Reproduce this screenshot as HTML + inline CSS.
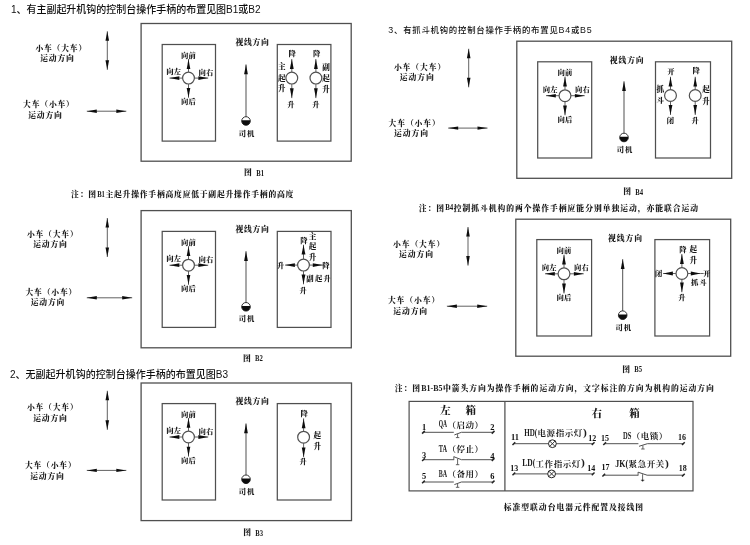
<!DOCTYPE html>
<html lang="zh-CN"><head><meta charset="utf-8"><title>联动台操作手柄布置图</title>
<style>
html,body{margin:0;padding:0;background:#fff;}
body{width:750px;height:545px;overflow:hidden;font-family:"Liberation Serif","Noto Serif CJK SC",serif;}
svg{display:block;}
</style></head><body>
<svg width="750" height="545" viewBox="0 0 750 545">
<defs><filter id="soft" filterUnits="userSpaceOnUse" x="0" y="0" width="750" height="545"><feGaussianBlur stdDeviation="0.38"/></filter></defs>
<rect x="0" y="0" width="750" height="545" fill="#ffffff"/>
<g filter="url(#soft)">
<text x="10.9" y="12.5" font-size="10" text-anchor="start" font-family='"Liberation Sans","Noto Sans CJK SC",sans-serif' font-weight="500" fill="#111" textLength="249.6" lengthAdjust="spacing">1、有主副起升机钩的控制台操作手柄的布置见图B1或B2</text>
<text x="10.0" y="377.6" font-size="10" text-anchor="start" font-family='"Liberation Sans","Noto Sans CJK SC",sans-serif' font-weight="500" fill="#111" textLength="218.0" lengthAdjust="spacing">2、无副起升机钩的控制台操作手柄的布置见图B3</text>
<text x="388.3" y="33.0" font-size="8.4" font-family='"Liberation Sans","Noto Sans CJK SC",sans-serif' font-weight="500" fill="#111" textLength="203.4" lengthAdjust="spacing"><tspan font-size="8.9">3</tspan>、有抓斗机钩的控制台操作手柄的布置见<tspan font-size="8.9">B4</tspan>或<tspan font-size="8.9">B5</tspan></text>
<rect x="141.1" y="23.5" width="210.1" height="137.7" fill="none" stroke="#505050" stroke-width="1.3"/>
<rect x="162.2" y="44.5" width="53.3" height="96.6" fill="none" stroke="#505050" stroke-width="1.25"/>
<rect x="277.3" y="44.5" width="53.6" height="96.6" fill="none" stroke="#505050" stroke-width="1.25"/>
<line x1="188.5" y1="72.1" x2="188.5" y2="59.1" stroke="#505050" stroke-width="0.9"/>
<polygon points="188.5,59.1 190.3,68.9 186.7,68.9" fill="#111"/>
<line x1="188.5" y1="84.1" x2="188.5" y2="97.7" stroke="#505050" stroke-width="0.9"/>
<polygon points="188.5,97.7 186.7,87.9 190.3,87.9" fill="#111"/>
<line x1="182.5" y1="78.1" x2="169.5" y2="78.1" stroke="#505050" stroke-width="0.9"/>
<polygon points="169.5,78.1 179.3,76.2 179.3,79.9" fill="#111"/>
<line x1="194.5" y1="78.1" x2="208.2" y2="78.1" stroke="#505050" stroke-width="0.9"/>
<polygon points="208.2,78.1 198.4,79.9 198.4,76.2" fill="#111"/>
<circle cx="188.5" cy="78.1" r="5.9" fill="#fff" stroke="#505050" stroke-width="1.2"/>
<text x="181.07 188.57" y="57.7" font-size="7.35" font-family='"Liberation Serif","Noto Serif CJK SC",serif' font-weight="900" fill="#1a1a1a">向前</text>
<text x="166.17 173.67" y="74.1" font-size="7.35" font-family='"Liberation Serif","Noto Serif CJK SC",serif' font-weight="900" fill="#1a1a1a">向左</text>
<text x="198.47 205.97" y="74.7" font-size="7.35" font-family='"Liberation Serif","Noto Serif CJK SC",serif' font-weight="900" fill="#1a1a1a">向右</text>
<text x="181.07 188.57" y="104.1" font-size="7.35" font-family='"Liberation Serif","Noto Serif CJK SC",serif' font-weight="900" fill="#1a1a1a">向后</text>
<line x1="246.0" y1="117.0" x2="246.0" y2="64.5" stroke="#505050" stroke-width="1.0"/>
<polygon points="246.0,64.5 247.9,74.3 244.1,74.3" fill="#111"/>
<circle cx="246.0" cy="121.0" r="4.3" fill="#fff" stroke="#222" stroke-width="0.9"/>
<path d="M241.76,120.30 A4.3,4.3 0 1 0 250.24,120.30 Z" fill="#111"/>
<text x="235.55 244.05 252.55 261.05" y="45.4" font-size="7.8" font-family='"Liberation Serif","Noto Serif CJK SC",serif' font-weight="900" fill="#1a1a1a">视线方向</text>
<text x="238.72 246.92" y="135.6" font-size="7.35" font-family='"Liberation Serif","Noto Serif CJK SC",serif' font-weight="900" fill="#1a1a1a">司机</text>
<line x1="291.8" y1="72.1" x2="291.8" y2="59.1" stroke="#505050" stroke-width="0.9"/>
<polygon points="291.8,59.1 293.7,68.9 289.9,68.9" fill="#111"/>
<line x1="291.8" y1="84.1" x2="291.8" y2="98.1" stroke="#505050" stroke-width="0.9"/>
<polygon points="291.8,98.1 289.9,88.3 293.7,88.3" fill="#111"/>
<circle cx="291.8" cy="78.1" r="5.9" fill="#fff" stroke="#505050" stroke-width="1.2"/>
<line x1="315.9" y1="72.1" x2="315.9" y2="59.1" stroke="#505050" stroke-width="0.9"/>
<polygon points="315.9,59.1 317.8,68.9 314.0,68.9" fill="#111"/>
<line x1="315.9" y1="84.1" x2="315.9" y2="98.1" stroke="#505050" stroke-width="0.9"/>
<polygon points="315.9,98.1 314.0,88.3 317.8,88.3" fill="#111"/>
<circle cx="315.9" cy="78.1" r="5.9" fill="#fff" stroke="#505050" stroke-width="1.2"/>
<text x="292.2" y="56.1" font-size="7.35" text-anchor="middle" font-family='"Liberation Serif","Noto Serif CJK SC",serif' font-weight="900" fill="#1a1a1a">降</text>
<text x="316.8" y="56.1" font-size="7.35" text-anchor="middle" font-family='"Liberation Serif","Noto Serif CJK SC",serif' font-weight="900" fill="#1a1a1a">降</text>
<text x="290.9" y="106.5" font-size="7.35" text-anchor="middle" font-family='"Liberation Serif","Noto Serif CJK SC",serif' font-weight="900" fill="#1a1a1a">升</text>
<text x="315.9" y="106.5" font-size="7.35" text-anchor="middle" font-family='"Liberation Serif","Noto Serif CJK SC",serif' font-weight="900" fill="#1a1a1a">升</text>
<text x="281.8" y="69.4" font-size="7.6" text-anchor="middle" font-family='"Liberation Serif","Noto Serif CJK SC",serif' font-weight="900" fill="#1a1a1a">主</text>
<text x="281.8" y="80.5" font-size="7.6" text-anchor="middle" font-family='"Liberation Serif","Noto Serif CJK SC",serif' font-weight="900" fill="#1a1a1a">起</text>
<text x="281.8" y="91.2" font-size="7.6" text-anchor="middle" font-family='"Liberation Serif","Noto Serif CJK SC",serif' font-weight="900" fill="#1a1a1a">升</text>
<text x="326.0" y="69.8" font-size="7.6" text-anchor="middle" font-family='"Liberation Serif","Noto Serif CJK SC",serif' font-weight="900" fill="#1a1a1a">副</text>
<text x="326.0" y="80.8" font-size="7.6" text-anchor="middle" font-family='"Liberation Serif","Noto Serif CJK SC",serif' font-weight="900" fill="#1a1a1a">起</text>
<text x="326.0" y="92.3" font-size="7.6" text-anchor="middle" font-family='"Liberation Serif","Noto Serif CJK SC",serif' font-weight="900" fill="#1a1a1a">升</text>
<line x1="107.3" y1="31.3" x2="107.3" y2="69.8" stroke="#505050" stroke-width="0.9"/>
<polygon points="107.3,69.8 105.5,60.3 109.1,60.3" fill="#111"/>
<polygon points="107.3,31.3 109.1,40.8 105.5,40.8" fill="#111"/>
<line x1="86.8" y1="111.2" x2="126.3" y2="111.2" stroke="#505050" stroke-width="0.9"/>
<polygon points="126.3,111.2 116.3,112.9 116.3,109.5" fill="#111"/>
<polygon points="86.8,111.2 96.8,109.5 96.8,112.9" fill="#111"/>
<text x="35.39 43.99 52.59 61.19 69.79 78.39" y="50.5" font-size="7.8" font-family='"Liberation Serif","Noto Serif CJK SC",serif' font-weight="900" fill="#1a1a1a">小车（大车）</text>
<text x="40.20 48.80 57.40 66.00" y="60.9" font-size="7.8" font-family='"Liberation Serif","Noto Serif CJK SC",serif' font-weight="900" fill="#1a1a1a">运动方向</text>
<text x="23.09 31.69 40.29 48.89 57.49 66.09" y="106.5" font-size="7.8" font-family='"Liberation Serif","Noto Serif CJK SC",serif' font-weight="900" fill="#1a1a1a">大车（小车）</text>
<text x="28.20 36.80 45.40 54.00" y="118.0" font-size="7.8" font-family='"Liberation Serif","Noto Serif CJK SC",serif' font-weight="900" fill="#1a1a1a">运动方向</text>
<text x="244.09" y="175.0" font-size="7.8" font-family='"Liberation Serif","Noto Serif CJK SC",serif' font-weight="900" fill="#1a1a1a">图</text>
<text x="256.2" y="175.7" font-size="8.8" text-anchor="start" font-family='"Liberation Serif",serif' font-weight="bold" fill="#1a1a1a" textLength="7.8" lengthAdjust="spacingAndGlyphs">B1</text>
<text x="71.09 79.67 88.25" y="197.1" font-size="7.8" font-family='"Liberation Serif","Noto Serif CJK SC",serif' font-weight="900" fill="#1a1a1a">注：图</text>
<text x="97.13" y="196.8" font-size="8.81" font-family='"Liberation Serif",serif' font-weight="900" fill="#1a1a1a" textLength="7.88" lengthAdjust="spacingAndGlyphs">B1</text>
<text x="105.41 113.99 122.57 131.15 139.73 148.31 156.89 165.47 174.05 182.63 191.21 199.79 208.37 216.95 225.53 234.11 242.69 251.27 259.85 268.43 277.01 285.59" y="197.1" font-size="7.8" font-family='"Liberation Serif","Noto Serif CJK SC",serif' font-weight="900" fill="#1a1a1a">主起升操作手柄高度应低于副起升操作手柄的高度</text>
<rect x="141.1" y="210.6" width="210.2" height="137.2" fill="none" stroke="#505050" stroke-width="1.3"/>
<rect x="162.2" y="231.4" width="53.3" height="96.0" fill="none" stroke="#505050" stroke-width="1.25"/>
<rect x="277.3" y="231.4" width="53.7" height="96.0" fill="none" stroke="#505050" stroke-width="1.25"/>
<line x1="188.5" y1="259.2" x2="188.5" y2="246.2" stroke="#505050" stroke-width="0.9"/>
<polygon points="188.5,246.2 190.3,256.0 186.7,256.0" fill="#111"/>
<line x1="188.5" y1="271.2" x2="188.5" y2="284.8" stroke="#505050" stroke-width="0.9"/>
<polygon points="188.5,284.8 186.7,275.0 190.3,275.0" fill="#111"/>
<line x1="182.5" y1="265.2" x2="169.5" y2="265.2" stroke="#505050" stroke-width="0.9"/>
<polygon points="169.5,265.2 179.3,263.3 179.3,267.1" fill="#111"/>
<line x1="194.5" y1="265.2" x2="208.2" y2="265.2" stroke="#505050" stroke-width="0.9"/>
<polygon points="208.2,265.2 198.4,267.1 198.4,263.3" fill="#111"/>
<circle cx="188.5" cy="265.2" r="5.9" fill="#fff" stroke="#505050" stroke-width="1.2"/>
<text x="181.07 188.57" y="244.8" font-size="7.35" font-family='"Liberation Serif","Noto Serif CJK SC",serif' font-weight="900" fill="#1a1a1a">向前</text>
<text x="166.17 173.67" y="261.2" font-size="7.35" font-family='"Liberation Serif","Noto Serif CJK SC",serif' font-weight="900" fill="#1a1a1a">向左</text>
<text x="198.47 205.97" y="261.8" font-size="7.35" font-family='"Liberation Serif","Noto Serif CJK SC",serif' font-weight="900" fill="#1a1a1a">向右</text>
<text x="181.07 188.57" y="291.2" font-size="7.35" font-family='"Liberation Serif","Noto Serif CJK SC",serif' font-weight="900" fill="#1a1a1a">向后</text>
<line x1="246.0" y1="302.8" x2="246.0" y2="251.2" stroke="#505050" stroke-width="1.0"/>
<polygon points="246.0,251.2 247.9,261.0 244.1,261.0" fill="#111"/>
<circle cx="246.0" cy="306.8" r="4.3" fill="#fff" stroke="#222" stroke-width="0.9"/>
<path d="M241.76,306.10 A4.3,4.3 0 1 0 250.24,306.10 Z" fill="#111"/>
<text x="235.55 244.05 252.55 261.05" y="232.3" font-size="7.8" font-family='"Liberation Serif","Noto Serif CJK SC",serif' font-weight="900" fill="#1a1a1a">视线方向</text>
<text x="238.72 246.92" y="321.4" font-size="7.35" font-family='"Liberation Serif","Noto Serif CJK SC",serif' font-weight="900" fill="#1a1a1a">司机</text>
<line x1="303.5" y1="259.1" x2="303.5" y2="244.8" stroke="#505050" stroke-width="0.9"/>
<polygon points="303.5,244.8 305.4,254.6 301.6,254.6" fill="#111"/>
<line x1="303.5" y1="271.1" x2="303.5" y2="284.3" stroke="#505050" stroke-width="0.9"/>
<polygon points="303.5,284.3 301.6,274.5 305.4,274.5" fill="#111"/>
<line x1="297.5" y1="265.1" x2="285.1" y2="265.1" stroke="#505050" stroke-width="0.9"/>
<polygon points="285.1,265.1 294.9,263.2 294.9,267.0" fill="#111"/>
<line x1="309.5" y1="265.1" x2="322.6" y2="265.1" stroke="#505050" stroke-width="0.9"/>
<polygon points="322.6,265.1 312.8,267.0 312.8,263.2" fill="#111"/>
<circle cx="303.5" cy="265.1" r="5.9" fill="#fff" stroke="#505050" stroke-width="1.2"/>
<line x1="322.6" y1="265.1" x2="325.0" y2="265.1" stroke="#505050" stroke-width="0.9"/>
<text x="303.9" y="242.7" font-size="7.35" text-anchor="middle" font-family='"Liberation Serif","Noto Serif CJK SC",serif' font-weight="900" fill="#1a1a1a">降</text>
<text x="312.6" y="238.5" font-size="7.6" text-anchor="middle" font-family='"Liberation Serif","Noto Serif CJK SC",serif' font-weight="900" fill="#1a1a1a">主</text>
<text x="312.6" y="248.8" font-size="7.6" text-anchor="middle" font-family='"Liberation Serif","Noto Serif CJK SC",serif' font-weight="900" fill="#1a1a1a">起</text>
<text x="312.6" y="260.2" font-size="7.6" text-anchor="middle" font-family='"Liberation Serif","Noto Serif CJK SC",serif' font-weight="900" fill="#1a1a1a">升</text>
<text x="280.7" y="267.7" font-size="7.35" text-anchor="middle" font-family='"Liberation Serif","Noto Serif CJK SC",serif' font-weight="900" fill="#1a1a1a">升</text>
<text x="326.0" y="267.7" font-size="7.35" text-anchor="middle" font-family='"Liberation Serif","Noto Serif CJK SC",serif' font-weight="900" fill="#1a1a1a">降</text>
<text x="306.21 314.91 323.61" y="280.8" font-size="7.35" font-family='"Liberation Serif","Noto Serif CJK SC",serif' font-weight="900" fill="#1a1a1a">副起升</text>
<text x="303.2" y="292.9" font-size="7.35" text-anchor="middle" font-family='"Liberation Serif","Noto Serif CJK SC",serif' font-weight="900" fill="#1a1a1a">升</text>
<line x1="107.3" y1="218.0" x2="107.3" y2="257.0" stroke="#505050" stroke-width="0.9"/>
<polygon points="107.3,257.0 105.5,247.5 109.1,247.5" fill="#111"/>
<polygon points="107.3,218.0 109.1,227.5 105.5,227.5" fill="#111"/>
<line x1="86.8" y1="297.8" x2="132.2" y2="297.8" stroke="#505050" stroke-width="0.9"/>
<polygon points="132.2,297.8 122.2,299.5 122.2,296.1" fill="#111"/>
<polygon points="86.8,297.8 96.8,296.1 96.8,299.5" fill="#111"/>
<text x="26.89 35.49 44.09 52.69 61.29 69.89" y="236.8" font-size="7.8" font-family='"Liberation Serif","Noto Serif CJK SC",serif' font-weight="900" fill="#1a1a1a">小车（大车）</text>
<text x="33.20 41.80 50.40 59.00" y="247.0" font-size="7.8" font-family='"Liberation Serif","Noto Serif CJK SC",serif' font-weight="900" fill="#1a1a1a">运动方向</text>
<text x="25.49 34.09 42.69 51.29 59.89 68.49" y="294.5" font-size="7.8" font-family='"Liberation Serif","Noto Serif CJK SC",serif' font-weight="900" fill="#1a1a1a">大车（小车）</text>
<text x="30.70 39.30 47.90 56.50" y="304.8" font-size="7.8" font-family='"Liberation Serif","Noto Serif CJK SC",serif' font-weight="900" fill="#1a1a1a">运动方向</text>
<text x="242.89" y="360.5" font-size="7.8" font-family='"Liberation Serif","Noto Serif CJK SC",serif' font-weight="900" fill="#1a1a1a">图</text>
<text x="255.0" y="361.2" font-size="8.8" text-anchor="start" font-family='"Liberation Serif",serif' font-weight="bold" fill="#1a1a1a" textLength="7.8" lengthAdjust="spacingAndGlyphs">B2</text>
<rect x="141.1" y="383.0" width="210.4" height="137.6" fill="none" stroke="#505050" stroke-width="1.3"/>
<rect x="162.2" y="403.6" width="53.3" height="96.4" fill="none" stroke="#505050" stroke-width="1.25"/>
<rect x="277.3" y="403.6" width="53.7" height="96.4" fill="none" stroke="#505050" stroke-width="1.25"/>
<line x1="188.5" y1="431.0" x2="188.5" y2="418.0" stroke="#505050" stroke-width="0.9"/>
<polygon points="188.5,418.0 190.3,427.8 186.7,427.8" fill="#111"/>
<line x1="188.5" y1="443.0" x2="188.5" y2="456.6" stroke="#505050" stroke-width="0.9"/>
<polygon points="188.5,456.6 186.7,446.8 190.3,446.8" fill="#111"/>
<line x1="182.5" y1="437.0" x2="169.5" y2="437.0" stroke="#505050" stroke-width="0.9"/>
<polygon points="169.5,437.0 179.3,435.1 179.3,438.9" fill="#111"/>
<line x1="194.5" y1="437.0" x2="208.2" y2="437.0" stroke="#505050" stroke-width="0.9"/>
<polygon points="208.2,437.0 198.4,438.9 198.4,435.1" fill="#111"/>
<circle cx="188.5" cy="437.0" r="5.9" fill="#fff" stroke="#505050" stroke-width="1.2"/>
<text x="181.07 188.57" y="416.6" font-size="7.35" font-family='"Liberation Serif","Noto Serif CJK SC",serif' font-weight="900" fill="#1a1a1a">向前</text>
<text x="166.17 173.67" y="433.0" font-size="7.35" font-family='"Liberation Serif","Noto Serif CJK SC",serif' font-weight="900" fill="#1a1a1a">向左</text>
<text x="198.47 205.97" y="433.6" font-size="7.35" font-family='"Liberation Serif","Noto Serif CJK SC",serif' font-weight="900" fill="#1a1a1a">向右</text>
<text x="181.07 188.57" y="463.0" font-size="7.35" font-family='"Liberation Serif","Noto Serif CJK SC",serif' font-weight="900" fill="#1a1a1a">向后</text>
<line x1="246.0" y1="475.3" x2="246.0" y2="423.5" stroke="#505050" stroke-width="1.0"/>
<polygon points="246.0,423.5 247.9,433.3 244.1,433.3" fill="#111"/>
<circle cx="246.0" cy="479.3" r="4.3" fill="#fff" stroke="#222" stroke-width="0.9"/>
<path d="M241.76,478.60 A4.3,4.3 0 1 0 250.24,478.60 Z" fill="#111"/>
<text x="235.55 244.05 252.55 261.05" y="404.3" font-size="7.8" font-family='"Liberation Serif","Noto Serif CJK SC",serif' font-weight="900" fill="#1a1a1a">视线方向</text>
<text x="238.72 246.92" y="493.9" font-size="7.35" font-family='"Liberation Serif","Noto Serif CJK SC",serif' font-weight="900" fill="#1a1a1a">司机</text>
<line x1="303.6" y1="431.2" x2="303.6" y2="418.4" stroke="#505050" stroke-width="0.9"/>
<polygon points="303.6,418.4 305.5,428.2 301.8,428.2" fill="#111"/>
<line x1="303.6" y1="443.2" x2="303.6" y2="457.2" stroke="#505050" stroke-width="0.9"/>
<polygon points="303.6,457.2 301.8,447.4 305.5,447.4" fill="#111"/>
<circle cx="303.6" cy="437.2" r="5.9" fill="#fff" stroke="#505050" stroke-width="1.2"/>
<text x="304.3" y="415.7" font-size="7.35" text-anchor="middle" font-family='"Liberation Serif","Noto Serif CJK SC",serif' font-weight="900" fill="#1a1a1a">降</text>
<text x="303.2" y="464.1" font-size="7.35" text-anchor="middle" font-family='"Liberation Serif","Noto Serif CJK SC",serif' font-weight="900" fill="#1a1a1a">升</text>
<text x="317.2" y="437.6" font-size="7.6" text-anchor="middle" font-family='"Liberation Serif","Noto Serif CJK SC",serif' font-weight="900" fill="#1a1a1a">起</text>
<text x="317.2" y="448.6" font-size="7.6" text-anchor="middle" font-family='"Liberation Serif","Noto Serif CJK SC",serif' font-weight="900" fill="#1a1a1a">升</text>
<line x1="107.3" y1="390.8" x2="107.3" y2="429.8" stroke="#505050" stroke-width="0.9"/>
<polygon points="107.3,429.8 105.5,420.3 109.1,420.3" fill="#111"/>
<polygon points="107.3,390.8 109.1,400.3 105.5,400.3" fill="#111"/>
<line x1="86.8" y1="470.4" x2="126.3" y2="470.4" stroke="#505050" stroke-width="0.9"/>
<polygon points="126.3,470.4 116.3,472.1 116.3,468.7" fill="#111"/>
<polygon points="86.8,470.4 96.8,468.7 96.8,472.1" fill="#111"/>
<text x="26.89 35.49 44.09 52.69 61.29 69.89" y="409.8" font-size="7.8" font-family='"Liberation Serif","Noto Serif CJK SC",serif' font-weight="900" fill="#1a1a1a">小车（大车）</text>
<text x="33.20 41.80 50.40 59.00" y="420.6" font-size="7.8" font-family='"Liberation Serif","Noto Serif CJK SC",serif' font-weight="900" fill="#1a1a1a">运动方向</text>
<text x="24.89 33.49 42.09 50.69 59.29 67.89" y="467.5" font-size="7.8" font-family='"Liberation Serif","Noto Serif CJK SC",serif' font-weight="900" fill="#1a1a1a">大车（小车）</text>
<text x="30.20 38.80 47.40 56.00" y="478.8" font-size="7.8" font-family='"Liberation Serif","Noto Serif CJK SC",serif' font-weight="900" fill="#1a1a1a">运动方向</text>
<text x="243.19" y="535.0" font-size="7.8" font-family='"Liberation Serif","Noto Serif CJK SC",serif' font-weight="900" fill="#1a1a1a">图</text>
<text x="255.3" y="535.7" font-size="8.8" text-anchor="start" font-family='"Liberation Serif",serif' font-weight="bold" fill="#1a1a1a" textLength="7.8" lengthAdjust="spacingAndGlyphs">B3</text>
<rect x="516.8" y="41.2" width="214.9" height="137.1" fill="none" stroke="#505050" stroke-width="1.3"/>
<rect x="537.7" y="61.8" width="54.0" height="96.2" fill="none" stroke="#505050" stroke-width="1.25"/>
<rect x="655.5" y="61.8" width="55.0" height="96.2" fill="none" stroke="#505050" stroke-width="1.25"/>
<line x1="565.0" y1="89.7" x2="565.0" y2="76.7" stroke="#505050" stroke-width="0.9"/>
<polygon points="565.0,76.7 566.9,86.5 563.1,86.5" fill="#111"/>
<line x1="565.0" y1="101.7" x2="565.0" y2="115.3" stroke="#505050" stroke-width="0.9"/>
<polygon points="565.0,115.3 563.1,105.5 566.9,105.5" fill="#111"/>
<line x1="559.0" y1="95.7" x2="546.0" y2="95.7" stroke="#505050" stroke-width="0.9"/>
<polygon points="546.0,95.7 555.8,93.9 555.8,97.5" fill="#111"/>
<line x1="571.0" y1="95.7" x2="584.7" y2="95.7" stroke="#505050" stroke-width="0.9"/>
<polygon points="584.7,95.7 574.9,97.5 574.9,93.9" fill="#111"/>
<circle cx="565.0" cy="95.7" r="5.9" fill="#fff" stroke="#505050" stroke-width="1.2"/>
<text x="557.58 565.08" y="75.3" font-size="7.35" font-family='"Liberation Serif","Noto Serif CJK SC",serif' font-weight="900" fill="#1a1a1a">向前</text>
<text x="542.68 550.18" y="91.7" font-size="7.35" font-family='"Liberation Serif","Noto Serif CJK SC",serif' font-weight="900" fill="#1a1a1a">向左</text>
<text x="574.98 582.48" y="92.3" font-size="7.35" font-family='"Liberation Serif","Noto Serif CJK SC",serif' font-weight="900" fill="#1a1a1a">向右</text>
<text x="557.58 565.08" y="121.7" font-size="7.35" font-family='"Liberation Serif","Noto Serif CJK SC",serif' font-weight="900" fill="#1a1a1a">向后</text>
<line x1="624.0" y1="133.5" x2="624.0" y2="81.3" stroke="#505050" stroke-width="1.0"/>
<polygon points="624.0,81.3 625.9,91.1 622.1,91.1" fill="#111"/>
<circle cx="624.0" cy="137.5" r="4.3" fill="#fff" stroke="#222" stroke-width="0.9"/>
<path d="M619.76,136.80 A4.3,4.3 0 1 0 628.24,136.80 Z" fill="#111"/>
<text x="609.75 618.45 627.15 635.85" y="62.8" font-size="7.8" font-family='"Liberation Serif","Noto Serif CJK SC",serif' font-weight="900" fill="#1a1a1a">视线方向</text>
<text x="616.73 624.93" y="152.1" font-size="7.35" font-family='"Liberation Serif","Noto Serif CJK SC",serif' font-weight="900" fill="#1a1a1a">司机</text>
<line x1="670.5" y1="89.5" x2="670.5" y2="76.8" stroke="#505050" stroke-width="0.9"/>
<polygon points="670.5,76.8 672.4,86.6 668.6,86.6" fill="#111"/>
<line x1="670.5" y1="101.5" x2="670.5" y2="114.9" stroke="#505050" stroke-width="0.9"/>
<polygon points="670.5,114.9 668.6,105.1 672.4,105.1" fill="#111"/>
<circle cx="670.5" cy="95.5" r="5.9" fill="#fff" stroke="#505050" stroke-width="1.2"/>
<line x1="695.2" y1="89.5" x2="695.2" y2="76.8" stroke="#505050" stroke-width="0.9"/>
<polygon points="695.2,76.8 697.1,86.6 693.4,86.6" fill="#111"/>
<line x1="695.2" y1="101.5" x2="695.2" y2="114.9" stroke="#505050" stroke-width="0.9"/>
<polygon points="695.2,114.9 693.4,105.1 697.1,105.1" fill="#111"/>
<circle cx="695.2" cy="95.5" r="5.9" fill="#fff" stroke="#505050" stroke-width="1.2"/>
<text x="670.9" y="74.4" font-size="7.35" text-anchor="middle" font-family='"Liberation Serif","Noto Serif CJK SC",serif' font-weight="900" fill="#1a1a1a">开</text>
<text x="696.3" y="73.0" font-size="7.35" text-anchor="middle" font-family='"Liberation Serif","Noto Serif CJK SC",serif' font-weight="900" fill="#1a1a1a">降</text>
<text x="670.5" y="122.9" font-size="7.35" text-anchor="middle" font-family='"Liberation Serif","Noto Serif CJK SC",serif' font-weight="900" fill="#1a1a1a">闭</text>
<text x="695.2" y="122.9" font-size="7.35" text-anchor="middle" font-family='"Liberation Serif","Noto Serif CJK SC",serif' font-weight="900" fill="#1a1a1a">升</text>
<text x="660.4" y="91.5" font-size="7.6" text-anchor="middle" font-family='"Liberation Serif","Noto Serif CJK SC",serif' font-weight="900" fill="#1a1a1a">抓</text>
<text x="660.4" y="102.9" font-size="7.6" text-anchor="middle" font-family='"Liberation Serif","Noto Serif CJK SC",serif' font-weight="900" fill="#1a1a1a">斗</text>
<text x="706.0" y="92.2" font-size="7.6" text-anchor="middle" font-family='"Liberation Serif","Noto Serif CJK SC",serif' font-weight="900" fill="#1a1a1a">起</text>
<text x="706.0" y="103.6" font-size="7.6" text-anchor="middle" font-family='"Liberation Serif","Noto Serif CJK SC",serif' font-weight="900" fill="#1a1a1a">升</text>
<line x1="468.7" y1="48.8" x2="468.7" y2="87.3" stroke="#505050" stroke-width="0.9"/>
<polygon points="468.7,87.3 466.9,77.8 470.5,77.8" fill="#111"/>
<polygon points="468.7,48.8 470.5,58.3 466.9,58.3" fill="#111"/>
<line x1="448.2" y1="128.1" x2="487.5" y2="128.1" stroke="#505050" stroke-width="0.9"/>
<polygon points="487.5,128.1 477.5,129.8 477.5,126.4" fill="#111"/>
<polygon points="448.2,128.1 458.2,126.4 458.2,129.8" fill="#111"/>
<text x="393.89 402.59 411.29 419.99 428.69 437.39" y="69.8" font-size="7.8" font-family='"Liberation Serif","Noto Serif CJK SC",serif' font-weight="900" fill="#1a1a1a">小车（大车）</text>
<text x="399.85 408.55 417.25 425.95" y="79.8" font-size="7.8" font-family='"Liberation Serif","Noto Serif CJK SC",serif' font-weight="900" fill="#1a1a1a">运动方向</text>
<text x="388.49 397.19 405.89 414.59 423.29 431.99" y="125.8" font-size="7.8" font-family='"Liberation Serif","Noto Serif CJK SC",serif' font-weight="900" fill="#1a1a1a">大车（小车）</text>
<text x="394.05 402.75 411.45 420.15" y="136.1" font-size="7.8" font-family='"Liberation Serif","Noto Serif CJK SC",serif' font-weight="900" fill="#1a1a1a">运动方向</text>
<text x="623.19" y="194.0" font-size="7.8" font-family='"Liberation Serif","Noto Serif CJK SC",serif' font-weight="900" fill="#1a1a1a">图</text>
<text x="635.3" y="194.7" font-size="8.8" text-anchor="start" font-family='"Liberation Serif",serif' font-weight="bold" fill="#1a1a1a" textLength="7.8" lengthAdjust="spacingAndGlyphs">B4</text>
<text x="418.69 427.45 436.21" y="210.6" font-size="7.8" font-family='"Liberation Serif","Noto Serif CJK SC",serif' font-weight="900" fill="#1a1a1a">注：图</text>
<text x="445.27" y="210.3" font-size="8.81" font-family='"Liberation Serif",serif' font-weight="900" fill="#1a1a1a" textLength="8.06" lengthAdjust="spacingAndGlyphs">B4</text>
<text x="453.73 462.49 471.25 480.01 488.77 497.53 506.29 515.05 523.81 532.57 541.33 550.09 558.85 567.61 576.37 585.13 593.89 602.65 611.41 620.17 628.93 637.69 646.45 655.21 663.97 672.73 681.49 690.25" y="210.6" font-size="7.8" font-family='"Liberation Serif","Noto Serif CJK SC",serif' font-weight="900" fill="#1a1a1a">控制抓斗机构的两个操作手柄应能分别单独运动，亦能联合运动</text>
<rect x="515.8" y="219.2" width="214.9" height="137.0" fill="none" stroke="#505050" stroke-width="1.3"/>
<rect x="536.8" y="239.6" width="54.8" height="96.4" fill="none" stroke="#505050" stroke-width="1.25"/>
<rect x="654.9" y="239.6" width="54.7" height="96.4" fill="none" stroke="#505050" stroke-width="1.25"/>
<line x1="564.0" y1="267.8" x2="564.0" y2="254.8" stroke="#505050" stroke-width="0.9"/>
<polygon points="564.0,254.8 565.9,264.6 562.1,264.6" fill="#111"/>
<line x1="564.0" y1="279.8" x2="564.0" y2="293.4" stroke="#505050" stroke-width="0.9"/>
<polygon points="564.0,293.4 562.1,283.6 565.9,283.6" fill="#111"/>
<line x1="558.0" y1="273.8" x2="545.0" y2="273.8" stroke="#505050" stroke-width="0.9"/>
<polygon points="545.0,273.8 554.8,271.9 554.8,275.7" fill="#111"/>
<line x1="570.0" y1="273.8" x2="583.7" y2="273.8" stroke="#505050" stroke-width="0.9"/>
<polygon points="583.7,273.8 573.9,275.7 573.9,271.9" fill="#111"/>
<circle cx="564.0" cy="273.8" r="5.9" fill="#fff" stroke="#505050" stroke-width="1.2"/>
<text x="556.58 564.08" y="253.4" font-size="7.35" font-family='"Liberation Serif","Noto Serif CJK SC",serif' font-weight="900" fill="#1a1a1a">向前</text>
<text x="541.68 549.18" y="269.8" font-size="7.35" font-family='"Liberation Serif","Noto Serif CJK SC",serif' font-weight="900" fill="#1a1a1a">向左</text>
<text x="573.98 581.48" y="270.4" font-size="7.35" font-family='"Liberation Serif","Noto Serif CJK SC",serif' font-weight="900" fill="#1a1a1a">向右</text>
<text x="556.58 564.08" y="299.8" font-size="7.35" font-family='"Liberation Serif","Noto Serif CJK SC",serif' font-weight="900" fill="#1a1a1a">向后</text>
<line x1="622.7" y1="311.2" x2="622.7" y2="259.2" stroke="#505050" stroke-width="1.0"/>
<polygon points="622.7,259.2 624.6,269.0 620.8,269.0" fill="#111"/>
<circle cx="622.7" cy="315.2" r="4.3" fill="#fff" stroke="#222" stroke-width="0.9"/>
<path d="M618.46,314.50 A4.3,4.3 0 1 0 626.94,314.50 Z" fill="#111"/>
<text x="608.05 616.75 625.45 634.15" y="240.5" font-size="7.8" font-family='"Liberation Serif","Noto Serif CJK SC",serif' font-weight="900" fill="#1a1a1a">视线方向</text>
<text x="615.43 623.63" y="329.8" font-size="7.35" font-family='"Liberation Serif","Noto Serif CJK SC",serif' font-weight="900" fill="#1a1a1a">司机</text>
<line x1="681.9" y1="267.5" x2="681.9" y2="254.1" stroke="#505050" stroke-width="0.9"/>
<polygon points="681.9,254.1 683.8,263.9 680.0,263.9" fill="#111"/>
<line x1="681.9" y1="279.5" x2="681.9" y2="292.2" stroke="#505050" stroke-width="0.9"/>
<polygon points="681.9,292.2 680.0,282.4 683.8,282.4" fill="#111"/>
<line x1="675.9" y1="273.5" x2="663.1" y2="273.5" stroke="#505050" stroke-width="0.9"/>
<polygon points="663.1,273.5 672.9,271.6 672.9,275.4" fill="#111"/>
<line x1="687.9" y1="273.5" x2="700.6" y2="273.5" stroke="#505050" stroke-width="0.9"/>
<polygon points="700.6,273.5 690.8,275.4 690.8,271.6" fill="#111"/>
<circle cx="681.9" cy="273.5" r="5.9" fill="#fff" stroke="#505050" stroke-width="1.2"/>
<line x1="700.6" y1="273.5" x2="703.5" y2="273.5" stroke="#505050" stroke-width="0.9"/>
<text x="682.9" y="251.7" font-size="7.35" text-anchor="middle" font-family='"Liberation Serif","Noto Serif CJK SC",serif' font-weight="900" fill="#1a1a1a">降</text>
<text x="693.2" y="252.1" font-size="7.6" text-anchor="middle" font-family='"Liberation Serif","Noto Serif CJK SC",serif' font-weight="900" fill="#1a1a1a">起</text>
<text x="693.2" y="262.8" font-size="7.6" text-anchor="middle" font-family='"Liberation Serif","Noto Serif CJK SC",serif' font-weight="900" fill="#1a1a1a">升</text>
<text x="658.8" y="275.8" font-size="7.35" text-anchor="middle" font-family='"Liberation Serif","Noto Serif CJK SC",serif' font-weight="900" fill="#1a1a1a">闭</text>
<text x="706.6" y="275.8" font-size="7.35" text-anchor="middle" font-family='"Liberation Serif","Noto Serif CJK SC",serif' font-weight="900" fill="#1a1a1a">开</text>
<text x="690.91 699.51" y="285.2" font-size="7.35" font-family='"Liberation Serif","Noto Serif CJK SC",serif' font-weight="900" fill="#1a1a1a">抓斗</text>
<text x="681.9" y="300.2" font-size="7.35" text-anchor="middle" font-family='"Liberation Serif","Noto Serif CJK SC",serif' font-weight="900" fill="#1a1a1a">升</text>
<line x1="468.0" y1="227.0" x2="468.0" y2="265.6" stroke="#505050" stroke-width="0.9"/>
<polygon points="468.0,265.6 466.2,256.1 469.8,256.1" fill="#111"/>
<polygon points="468.0,227.0 469.8,236.5 466.2,236.5" fill="#111"/>
<line x1="446.9" y1="306.2" x2="487.2" y2="306.2" stroke="#505050" stroke-width="0.9"/>
<polygon points="487.2,306.2 477.2,307.9 477.2,304.5" fill="#111"/>
<polygon points="446.9,306.2 456.9,304.5 456.9,307.9" fill="#111"/>
<text x="392.99 401.69 410.39 419.09 427.79 436.49" y="246.9" font-size="7.8" font-family='"Liberation Serif","Noto Serif CJK SC",serif' font-weight="900" fill="#1a1a1a">小车（大车）</text>
<text x="399.05 407.75 416.45 425.15" y="256.8" font-size="7.8" font-family='"Liberation Serif","Noto Serif CJK SC",serif' font-weight="900" fill="#1a1a1a">运动方向</text>
<text x="387.89 396.59 405.29 413.99 422.69 431.39" y="303.1" font-size="7.8" font-family='"Liberation Serif","Noto Serif CJK SC",serif' font-weight="900" fill="#1a1a1a">大车（小车）</text>
<text x="393.25 401.95 410.65 419.35" y="313.8" font-size="7.8" font-family='"Liberation Serif","Noto Serif CJK SC",serif' font-weight="900" fill="#1a1a1a">运动方向</text>
<text x="622.19" y="371.6" font-size="7.8" font-family='"Liberation Serif","Noto Serif CJK SC",serif' font-weight="900" fill="#1a1a1a">图</text>
<text x="634.3" y="372.3" font-size="8.8" text-anchor="start" font-family='"Liberation Serif",serif' font-weight="bold" fill="#1a1a1a" textLength="7.8" lengthAdjust="spacingAndGlyphs">B5</text>
<text x="394.69 403.46 412.23" y="391.0" font-size="7.8" font-family='"Liberation Serif","Noto Serif CJK SC",serif' font-weight="900" fill="#1a1a1a">注：图</text>
<text x="421.30" y="390.7" font-size="8.81" font-family='"Liberation Serif",serif' font-weight="900" fill="#1a1a1a" textLength="21.22" lengthAdjust="spacingAndGlyphs">B1-B5</text>
<text x="442.92 451.69 460.46 469.23 478.00 486.77 495.54 504.31 513.08 521.85 530.62 539.39 548.16 556.93 565.70 574.47 583.24 592.01 600.78 609.55 618.32 627.09 635.86 644.63 653.40 662.17 670.94 679.71 688.48 697.25 706.02" y="391.0" font-size="7.8" font-family='"Liberation Serif","Noto Serif CJK SC",serif' font-weight="900" fill="#1a1a1a">中箭头方向为操作手柄的运动方向，文字标注的方向为机构的运动方向</text>
<rect x="409.1" y="401.4" width="283.9" height="89.5" fill="none" stroke="#505050" stroke-width="1.2"/>
<line x1="504.9" y1="401.4" x2="504.9" y2="490.9" stroke="#505050" stroke-width="1.25"/>
<text x="445.5" y="414.1" font-size="10.5" text-anchor="middle" font-family='"Liberation Serif","Noto Serif CJK SC",serif' font-weight="900" fill="#1a1a1a">左</text>
<text x="470.8" y="414.1" font-size="10.5" text-anchor="middle" font-family='"Liberation Serif","Noto Serif CJK SC",serif' font-weight="900" fill="#1a1a1a">箱</text>
<text x="596.7" y="417.2" font-size="10.5" text-anchor="middle" font-family='"Liberation Serif","Noto Serif CJK SC",serif' font-weight="900" fill="#1a1a1a">右</text>
<text x="634.5" y="417.2" font-size="10.5" text-anchor="middle" font-family='"Liberation Serif","Noto Serif CJK SC",serif' font-weight="900" fill="#1a1a1a">箱</text>
<line x1="423.5" y1="432.3" x2="453.8" y2="432.3" stroke="#505050" stroke-width="1.0"/>
<line x1="461.4" y1="432.3" x2="493.2" y2="432.3" stroke="#505050" stroke-width="1.0"/>
<path d="M422.1,433.6 L424.8,430.9" stroke="#222" stroke-width="1.5"/>
<path d="M491.8,433.6 L494.5,430.9" stroke="#222" stroke-width="1.5"/>
<line x1="461.4" y1="432.3" x2="454.4" y2="434.9" stroke="#505050" stroke-width="1.0"/>
<line x1="457.6" y1="434.1" x2="457.6" y2="437.6" stroke="#505050" stroke-width="0.9"/>
<line x1="455.9" y1="437.6" x2="459.3" y2="437.6" stroke="#505050" stroke-width="0.9"/>
<line x1="423.5" y1="459.7" x2="453.8" y2="459.7" stroke="#505050" stroke-width="1.0"/>
<line x1="461.4" y1="459.7" x2="493.2" y2="459.7" stroke="#505050" stroke-width="1.0"/>
<path d="M422.1,461.0 L424.8,458.3" stroke="#222" stroke-width="1.5"/>
<path d="M491.8,461.0 L494.5,458.3" stroke="#222" stroke-width="1.5"/>
<line x1="453.8" y1="460.1" x2="453.8" y2="456.5" stroke="#505050" stroke-width="0.9"/>
<line x1="453.8" y1="456.7" x2="461.4" y2="459.7" stroke="#505050" stroke-width="1.0"/>
<line x1="457.6" y1="458.7" x2="457.6" y2="464.7" stroke="#505050" stroke-width="0.9"/>
<line x1="455.9" y1="464.7" x2="459.3" y2="464.7" stroke="#505050" stroke-width="0.9"/>
<line x1="423.5" y1="482.0" x2="453.8" y2="482.0" stroke="#505050" stroke-width="1.0"/>
<line x1="461.4" y1="482.0" x2="493.2" y2="482.0" stroke="#505050" stroke-width="1.0"/>
<path d="M422.1,483.3 L424.8,480.6" stroke="#222" stroke-width="1.5"/>
<path d="M491.8,483.3 L494.5,480.6" stroke="#222" stroke-width="1.5"/>
<line x1="461.4" y1="482.0" x2="454.4" y2="484.6" stroke="#505050" stroke-width="1.0"/>
<line x1="457.6" y1="483.8" x2="457.6" y2="487.3" stroke="#505050" stroke-width="0.9"/>
<line x1="455.9" y1="487.3" x2="459.3" y2="487.3" stroke="#505050" stroke-width="0.9"/>
<text x="422.1" y="430.0" font-size="9.0" text-anchor="start" font-family='"Liberation Serif",serif' font-weight="bold" fill="#111" textLength="4.2" lengthAdjust="spacingAndGlyphs">1</text>
<text x="490.2" y="430.0" font-size="9.0" text-anchor="start" font-family='"Liberation Serif",serif' font-weight="bold" fill="#111" textLength="4.2" lengthAdjust="spacingAndGlyphs">2</text>
<text x="422.1" y="457.9" font-size="9.0" text-anchor="start" font-family='"Liberation Serif",serif' font-weight="bold" fill="#111" textLength="4.2" lengthAdjust="spacingAndGlyphs">3</text>
<text x="490.2" y="458.6" font-size="9.0" text-anchor="start" font-family='"Liberation Serif",serif' font-weight="bold" fill="#111" textLength="4.2" lengthAdjust="spacingAndGlyphs">4</text>
<text x="422.1" y="479.2" font-size="9.0" text-anchor="start" font-family='"Liberation Serif",serif' font-weight="bold" fill="#111" textLength="4.2" lengthAdjust="spacingAndGlyphs">5</text>
<text x="490.2" y="479.2" font-size="9.0" text-anchor="start" font-family='"Liberation Serif",serif' font-weight="bold" fill="#111" textLength="4.2" lengthAdjust="spacingAndGlyphs">6</text>
<text x="438.66" y="427.4" font-size="9.35" font-family='"Liberation Serif",serif' font-weight="bold" fill="#1a1a1a" textLength="8.35" lengthAdjust="spacingAndGlyphs">QA</text>
<text x="447.41 456.46 465.51 474.56" y="427.7" font-size="8.5" font-family='"Liberation Serif","Noto Serif CJK SC",serif' font-weight="700" fill="#1a1a1a">（启动）</text>
<text x="438.66" y="451.9" font-size="9.35" font-family='"Liberation Serif",serif' font-weight="bold" fill="#1a1a1a" textLength="8.35" lengthAdjust="spacingAndGlyphs">TA</text>
<text x="447.41 456.46 465.51 474.56" y="452.2" font-size="8.5" font-family='"Liberation Serif","Noto Serif CJK SC",serif' font-weight="700" fill="#1a1a1a">（停止）</text>
<text x="438.66" y="476.7" font-size="9.35" font-family='"Liberation Serif",serif' font-weight="bold" fill="#1a1a1a" textLength="8.35" lengthAdjust="spacingAndGlyphs">BA</text>
<text x="447.41 456.46 465.51 474.56" y="477.0" font-size="8.5" font-family='"Liberation Serif","Noto Serif CJK SC",serif' font-weight="700" fill="#1a1a1a">（备用）</text>
<line x1="513.9" y1="443.7" x2="593.2" y2="443.7" stroke="#505050" stroke-width="1.0"/>
<path d="M512.5,445.0 L515.2,442.3" stroke="#222" stroke-width="1.5"/>
<path d="M591.8,445.0 L594.5,442.3" stroke="#222" stroke-width="1.5"/>
<circle cx="552.4" cy="443.7" r="3.9" fill="#fff" stroke="#222" stroke-width="1.0"/>
<line x1="549.6" y1="440.9" x2="555.2" y2="446.5" stroke="#222" stroke-width="0.9"/>
<line x1="549.6" y1="446.5" x2="555.2" y2="440.9" stroke="#222" stroke-width="0.9"/>
<line x1="513.9" y1="473.9" x2="593.2" y2="473.9" stroke="#505050" stroke-width="1.0"/>
<path d="M512.5,475.2 L515.2,472.5" stroke="#222" stroke-width="1.5"/>
<path d="M591.8,475.2 L594.5,472.5" stroke="#222" stroke-width="1.5"/>
<circle cx="551.6" cy="473.9" r="3.9" fill="#fff" stroke="#222" stroke-width="1.0"/>
<line x1="548.8" y1="471.1" x2="554.4" y2="476.7" stroke="#222" stroke-width="0.9"/>
<line x1="548.8" y1="476.7" x2="554.4" y2="471.1" stroke="#222" stroke-width="0.9"/>
<text x="511.0" y="440.1" font-size="9.0" text-anchor="start" font-family='"Liberation Serif",serif' font-weight="bold" fill="#111" textLength="8.0" lengthAdjust="spacingAndGlyphs">11</text>
<text x="588.3" y="441.0" font-size="9.0" text-anchor="start" font-family='"Liberation Serif",serif' font-weight="bold" fill="#111" textLength="8.0" lengthAdjust="spacingAndGlyphs">12</text>
<text x="510.2" y="471.1" font-size="9.0" text-anchor="start" font-family='"Liberation Serif",serif' font-weight="bold" fill="#111" textLength="8.0" lengthAdjust="spacingAndGlyphs">13</text>
<text x="587.3" y="470.5" font-size="9.0" text-anchor="start" font-family='"Liberation Serif",serif' font-weight="bold" fill="#111" textLength="8.0" lengthAdjust="spacingAndGlyphs">14</text>
<text x="524.26" y="435.6" font-size="9.35" font-family='"Liberation Serif",serif' font-weight="bold" fill="#1a1a1a" textLength="12.88" lengthAdjust="spacingAndGlyphs">HD(</text>
<text x="537.53 546.58 555.63 564.68 573.74" y="435.9" font-size="8.5" font-family='"Liberation Serif","Noto Serif CJK SC",serif' font-weight="700" fill="#1a1a1a">电源指示灯</text>
<text x="583.08" y="435.6" font-size="9.35" font-family='"Liberation Serif",serif' font-weight="bold" fill="#1a1a1a" textLength="3.83" lengthAdjust="spacingAndGlyphs">)</text>
<text x="522.26" y="466.4" font-size="9.35" font-family='"Liberation Serif",serif' font-weight="bold" fill="#1a1a1a" textLength="12.88" lengthAdjust="spacingAndGlyphs">LD(</text>
<text x="535.53 544.58 553.63 562.68 571.74" y="466.7" font-size="8.5" font-family='"Liberation Serif","Noto Serif CJK SC",serif' font-weight="700" fill="#1a1a1a">工作指示灯</text>
<text x="581.08" y="466.4" font-size="9.35" font-family='"Liberation Serif",serif' font-weight="bold" fill="#1a1a1a" textLength="3.83" lengthAdjust="spacingAndGlyphs">)</text>
<line x1="604.7" y1="443.7" x2="638.4" y2="443.7" stroke="#505050" stroke-width="1.0"/>
<line x1="647.4" y1="443.7" x2="683.4" y2="443.7" stroke="#505050" stroke-width="1.0"/>
<path d="M603.3,445.0 L606.0,442.3" stroke="#222" stroke-width="1.5"/>
<path d="M682.0,445.0 L684.7,442.3" stroke="#222" stroke-width="1.5"/>
<line x1="647.4" y1="443.7" x2="639.0" y2="446.3" stroke="#505050" stroke-width="1.0"/>
<line x1="642.9" y1="445.5" x2="642.9" y2="449.0" stroke="#505050" stroke-width="0.9"/>
<line x1="641.2" y1="449.0" x2="644.6" y2="449.0" stroke="#505050" stroke-width="0.9"/>
<line x1="603.8" y1="475.2" x2="638.1" y2="475.2" stroke="#505050" stroke-width="1.0"/>
<line x1="647.1" y1="475.2" x2="683.4" y2="475.2" stroke="#505050" stroke-width="1.0"/>
<path d="M602.4,476.5 L605.1,473.8" stroke="#222" stroke-width="1.5"/>
<path d="M682.0,476.5 L684.7,473.8" stroke="#222" stroke-width="1.5"/>
<line x1="638.1" y1="475.6" x2="638.1" y2="472.0" stroke="#505050" stroke-width="0.9"/>
<line x1="638.1" y1="472.2" x2="647.1" y2="475.2" stroke="#505050" stroke-width="1.0"/>
<line x1="642.6" y1="474.2" x2="642.6" y2="480.2" stroke="#505050" stroke-width="0.9"/>
<line x1="640.9" y1="480.2" x2="644.3" y2="480.2" stroke="#505050" stroke-width="0.9"/>
<circle cx="642.6" cy="480.6" r="0.9" fill="#222"/>
<text x="600.9" y="441.0" font-size="9.0" text-anchor="start" font-family='"Liberation Serif",serif' font-weight="bold" fill="#111" textLength="8.0" lengthAdjust="spacingAndGlyphs">15</text>
<text x="678.1" y="440.1" font-size="9.0" text-anchor="start" font-family='"Liberation Serif",serif' font-weight="bold" fill="#111" textLength="8.0" lengthAdjust="spacingAndGlyphs">16</text>
<text x="601.4" y="469.9" font-size="9.0" text-anchor="start" font-family='"Liberation Serif",serif' font-weight="bold" fill="#111" textLength="8.0" lengthAdjust="spacingAndGlyphs">17</text>
<text x="678.7" y="471.1" font-size="9.0" text-anchor="start" font-family='"Liberation Serif",serif' font-weight="bold" fill="#111" textLength="8.0" lengthAdjust="spacingAndGlyphs">18</text>
<text x="622.96" y="438.8" font-size="9.35" font-family='"Liberation Serif",serif' font-weight="bold" fill="#1a1a1a" textLength="8.35" lengthAdjust="spacingAndGlyphs">DS</text>
<text x="631.71 640.76 649.81 658.86" y="439.1" font-size="8.5" font-family='"Liberation Serif","Noto Serif CJK SC",serif' font-weight="700" fill="#1a1a1a">（电锁）</text>
<text x="615.26" y="467.1" font-size="9.35" font-family='"Liberation Serif",serif' font-weight="bold" fill="#1a1a1a" textLength="12.88" lengthAdjust="spacingAndGlyphs">JK(</text>
<text x="628.53 637.58 646.63 655.68" y="467.4" font-size="8.5" font-family='"Liberation Serif","Noto Serif CJK SC",serif' font-weight="700" fill="#1a1a1a">紧急开关</text>
<text x="665.03" y="467.1" font-size="9.35" font-family='"Liberation Serif",serif' font-weight="bold" fill="#1a1a1a" textLength="3.83" lengthAdjust="spacingAndGlyphs">)</text>
<text x="503.79 512.56 521.33 530.10 538.87 547.64 556.41 565.18 573.95 582.72 591.49 600.26 609.03 617.80 626.57 635.34" y="510.4" font-size="7.8" font-family='"Liberation Serif","Noto Serif CJK SC",serif' font-weight="900" fill="#1a1a1a">标准型联动台电器元件配置及接线图</text>
</g>
</svg>
</body></html>
